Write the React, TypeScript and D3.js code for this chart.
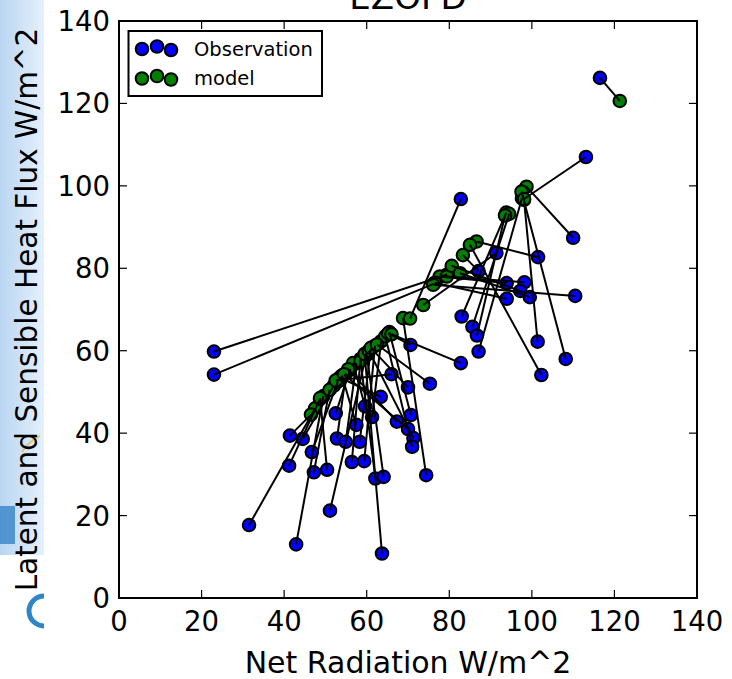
import React from "react";
import * as d3 from "d3";

// Observation (blue) and model (green) pairs
const obsX = [23, 23, 31.5, 42.9, 41.4, 44.5, 41.2, 46.7, 47.2, 50.4, 51.1, 52.5, 52.8, 54.9, 56.4, 57.5, 58.3, 59.4, 59.6, 61.3, 62.1, 64.1, 63.7, 63.4, 66, 67.3, 70, 71.3, 71, 70.7, 70, 70.6, 75.3, 74.4, 82.8, 83, 82.8, 85.6, 86.7, 87.1, 87.1, 91.4, 93.9, 98.2, 93.9, 97.2, 99.5, 101.5, 110, 110.5, 101.4, 108.2, 102.3, 113.1, 116.5];
const obsY = [59.8, 54.2, 17.7, 13, 39.4, 38.6, 32.1, 35.4, 30.5, 31.1, 21.2, 44.8, 38.7, 37.9, 33, 42, 37.9, 33.2, 46.5, 43.9, 29, 29.4, 10.8, 48.8, 54.3, 42.8, 41, 38.8, 36.7, 44.4, 51.1, 61.4, 52, 29.8, 57, 68.3, 96.8, 65.8, 63.7, 59.8, 79.3, 83.7, 76.4, 76.6, 72.6, 74.5, 73, 82.7, 87.4, 73.3, 62.2, 58, 54.1, 107, 126.2];
const modX = [79.5, 76.2, 47.5, 49.5, 46.5, 52, 48.7, 53, 51, 48.7, 60, 56, 55, 57.5, 58.5, 54, 61, 62, 56.7, 63.5, 58.5, 60, 59.5, 53.5, 52.5, 55.5, 54.5, 60.5, 64.5, 65.5, 61, 65.2, 62.5, 68.8, 66, 93.8, 70.5, 94.5, 93.5, 97.6, 83.3, 73.7, 77.7, 79.4, 76.5, 80.6, 82.6, 86.6, 98.7, 76.1, 98.1, 97.5, 85, 98.1, 121.3];
const modY = [78.5, 76.2, 46, 49, 44.5, 51.5, 48.3, 52.5, 50.5, 48.5, 59.5, 55.5, 54.5, 57, 58, 54, 60.5, 61.2, 57, 62.3, 57.5, 59, 59.2, 53.5, 52.8, 55.5, 54.3, 60, 63.5, 64.5, 60.7, 64.2, 61.5, 67.9, 64, 93.5, 67.8, 93.2, 92.8, 97, 83.2, 71.1, 78, 78, 76.5, 80.6, 78.8, 86.5, 99.8, 76, 96.6, 98.6, 85.7, 96.8, 120.6];

const ticks = [0, 20, 40, 60, 80, 100, 120, 140];
const titleText = "EZOFD";
const xLabel = "Net Radiation W/m^2";
const yLabel = "Latent and Sensible Heat Flux W/m^2";
const legendLabels = ["Observation", "model"];

const W = 732;
const H = 679;
const FONT = "'DejaVu Sans', sans-serif";

export default function App() {
  const x = d3.scaleLinear().domain([0, 140]).range([119, 697]);
  const y = d3.scaleLinear().domain([0, 140]).range([598, 21]);
  const pairs = obsX.map((ox, i) => ({ ox, oy: obsY[i], mx: modX[i], my: modY[i] }));
  const r = 6.3;
  const tl = 8;
  const [x0, x1] = x.range();
  const [y0, y1] = y.range();
  const legendMarks = [
    { dx: 142, dy: -1 },
    { dx: 157, dy: -3.5 },
    { dx: 171, dy: 0 },
  ];
  return (
    <svg width={W} height={H} style={{ position: "absolute", left: 0, top: 0, background: "#fff" }}>
      <defs>
        <linearGradient id="bg" x1="0" y1="0" x2="1" y2="0">
          <stop offset="0" stopColor="#b9d5f2" />
          <stop offset="1" stopColor="#e6f0fb" />
        </linearGradient>
      </defs>
      <rect x={0} y={0} width={W} height={H} fill="#fff" />
      <rect x={0} y={0} width={44} height={555} fill="url(#bg)" />
      <rect x={0} y={506} width={15} height={38} fill="#3f88c9" opacity={0.85} />
      <path d="M40,436 Q30,440 22,452" stroke="#e8b24a" strokeWidth={2} fill="none" opacity={0.7} />
      <path d="M44,596 A14,14 0 0 0 44,626" stroke="#2e86c8" strokeWidth={5} fill="none" />

      {/* title */}
      <text x={(x0 + x1) / 2} y={9} textAnchor="middle" fontFamily={FONT} fontSize={34} fill="#000">
        {titleText}
      </text>

      {/* markers */}
      {pairs.map((p, i) => (
        <circle key={"o" + i} cx={x(p.ox)} cy={y(p.oy)} r={r} fill="#0000ff" stroke="#000" strokeWidth={2} />
      ))}
      {pairs.map((p, i) => (
        <circle key={"m" + i} cx={x(p.mx)} cy={y(p.my)} r={r} fill="#008000" stroke="#000" strokeWidth={2} />
      ))}
      {/* connecting lines */}
      {pairs.map((p, i) => (
        <line key={"l" + i} x1={x(p.ox)} y1={y(p.oy)} x2={x(p.mx)} y2={y(p.my)} stroke="#000" strokeWidth={2} />
      ))}

      {/* frame */}
      <rect x={x0} y={y1} width={x1 - x0} height={y0 - y1} fill="none" stroke="#000" strokeWidth={2} />
      {ticks.map((t) => (
        <g key={"t" + t}>
          <line x1={x(t)} x2={x(t)} y1={y0} y2={y0 - tl} stroke="#000" strokeWidth={1.2} />
          <line x1={x(t)} x2={x(t)} y1={y1} y2={y1 + tl} stroke="#000" strokeWidth={1.2} />
          <line x1={x0} x2={x0 + tl} y1={y(t)} y2={y(t)} stroke="#000" strokeWidth={1.2} />
          <line x1={x1} x2={x1 - tl} y1={y(t)} y2={y(t)} stroke="#000" strokeWidth={1.2} />
          <text x={x(t)} y={631} textAnchor="middle" fontFamily={FONT} fontSize={27.5} fill="#000">
            {t}
          </text>
          <text x={110} y={y(t) + 10} textAnchor="end" fontFamily={FONT} fontSize={27.5} fill="#000">
            {t}
          </text>
        </g>
      ))}

      {/* axis labels */}
      <text x={(x0 + x1) / 2} y={673} textAnchor="middle" fontFamily={FONT} fontSize={30} fill="#000">
        {xLabel}
      </text>
      <text
        transform={`translate(37,${(y0 + y1) / 2}) rotate(-90)`}
        textAnchor="middle"
        fontFamily={FONT}
        fontSize={29.5}
        fill="#000"
      >
        {yLabel}
      </text>

      {/* legend */}
      <rect x={128.5} y={31} width={193.5} height={65} fill="#fff" stroke="#000" strokeWidth={2} />
      {legendLabels.map((lab, k) => {
        const cy = k === 0 ? 50 : 79.5;
        const col = k === 0 ? "#0000ff" : "#008000";
        return (
          <g key={lab}>
            {legendMarks.map((m, j) => (
              <circle key={j} cx={m.dx} cy={cy + m.dy} r={r} fill={col} stroke="#000" strokeWidth={2} />
            ))}
            <text x={194} y={cy + 5.5} fontFamily={FONT} fontSize={19.5} fill="#000">
              {lab}
            </text>
          </g>
        );
      })}
    </svg>
  );
}
